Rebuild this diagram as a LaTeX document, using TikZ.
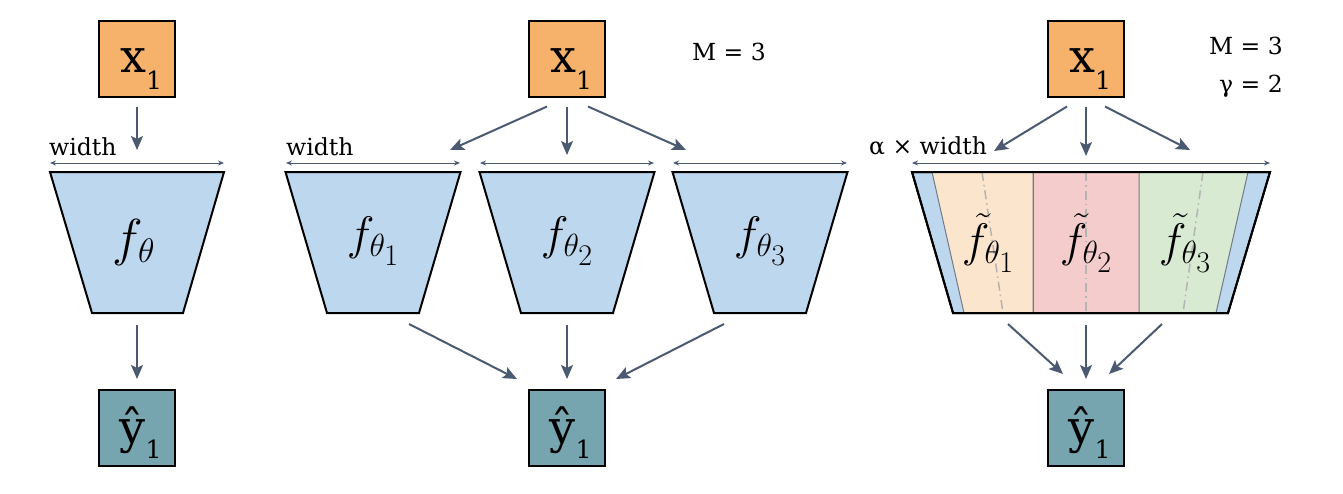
\RequirePackage{fix-cm}
\documentclass[tikz,border=0pt]{standalone}
\usepackage{fontspec}
\setmainfont{DejaVu Serif}
\usetikzlibrary{arrows.meta}
\DeclareMathSizes{47}{47}{32}{30}
\DeclareMathSizes{52}{52}{34}{32}

\definecolor{arancio}{HTML}{F6B26B}
\definecolor{azzurro}{HTML}{BDD7EE}
\definecolor{ciano}{HTML}{76A5AF}
\definecolor{freccia}{HTML}{4B5A70}
\definecolor{banda1}{HTML}{FCE5CD}
\definecolor{banda2}{HTML}{F4CCCC}
\definecolor{banda3}{HTML}{D9EAD3}
\definecolor{divisore}{HTML}{707A86}
\definecolor{tratto}{HTML}{B4B4B4}

\newcommand{\inlbl}{\raisebox{-13.5pt}[0pt][0pt]{\kern8pt\fontsize{46}{46}\selectfont x\raisebox{-17pt}{\fontsize{25}{25}\selectfont 1}}}
\newcommand{\outlbl}{\raisebox{-15pt}[0pt][0pt]{\kern7pt\fontsize{46}{46}\selectfont ŷ\raisebox{-15pt}{\fontsize{25}{25}\selectfont 1}}}

\begin{document}
\begin{tikzpicture}[x=1pt, y=-1pt,
        box/.style={draw, line width=2pt, minimum size=76pt, inner sep=0pt},
        inbox/.style={box, fill=arancio},
        outbox/.style={box, fill=ciano},
        net/.style={draw, line width=2pt, fill=azzurro},
        arr/.style={draw=freccia, line width=2pt, -{Stealth[length=14pt,width=12pt,inset=3pt]}},
        dim/.style={draw=freccia, line width=1pt, {Stealth[length=6pt,width=5pt]}-{Stealth[length=6pt,width=5pt]}},
        lbl/.style={inner sep=0pt, font=\fontsize{23.5}{28}\selectfont},
        fnt/.style={inner sep=0pt, font=\fontsize{47}{52}\selectfont}]
        \useasboundingbox (0,0) rectangle (1343,493);

        % Ingressi e uscite
        \node[inbox] (X0) at (137,58.5) {\inlbl};
        \node[inbox] (X1) at (567,58.5) {\inlbl};
        \node[inbox] (X2) at (1086,58.5) {\inlbl};
        \node[outbox] (Y0) at (137,428) {\outlbl};
        \node[outbox] (Y1) at (567,428) {\outlbl};
        \node[outbox] (Y2) at (1086,428) {\outlbl};

        % Rete singola
        \draw[net] (50,172) -- (224,172) -- (183,313) -- (92,313) -- cycle;
        \coordinate (T0) at (137,172);
        \coordinate (B0) at (137,313);
        \node[fnt, font=\fontsize{52}{58}\selectfont] (F0) at (134,242) {$f_\theta$};
        \draw[dim] (50,163) -- (224,163);
        \node[lbl, anchor=base west] (w0) at (49,155) {width};

        % Ensemble di M reti
        \foreach \c/\i in {373/1, 567/2, 760/3} {
            \draw[net] (\c-87.5,172) -- (\c+87.5,172) -- (\c+46,313) -- (\c-46,313) -- cycle;
            \coordinate (T\i) at (\c,172);
            \coordinate (B\i) at (\c,313);
            \node[fnt] (F\i) at (\c,241) {$f_{\theta_\i}$};
            \draw[dim] (\c-87,163) -- (\c+87,163);
        }
        \node[lbl, anchor=base west] (w1) at (286,155) {width};
        \node[lbl, anchor=base west] (m1) at (692,60) {M = 3};

        % Rete larga divisa in sottoreti
        \draw[net] (912,172) -- (1270,172) -- (1228,313) -- (953,313) -- cycle;
        \filldraw[fill=banda1, draw=divisore, line width=1pt] (932,172) -- (1033,172) -- (1033,313) -- (964,313) -- cycle;
        \filldraw[fill=banda2, draw=divisore, line width=1pt] (1033,172) -- (1139,172) -- (1139,313) -- (1033,313) -- cycle;
        \filldraw[fill=banda3, draw=divisore, line width=1pt] (1139,172) -- (1248,172) -- (1216,313) -- (1139,313) -- cycle;
        \draw[tratto, line width=1.5pt, dash pattern=on 9pt off 4pt on 1.5pt off 4pt] (982,172) -- (1003,313);
        \draw[tratto, line width=1.5pt, dash pattern=on 9pt off 4pt on 1.5pt off 4pt] (1086,172) -- (1086,313);
        \draw[tratto, line width=1.5pt, dash pattern=on 9pt off 4pt on 1.5pt off 4pt] (1203,172) -- (1183,313);
        \draw[line width=2pt] (912,172) -- (1270,172) -- (1228,313) -- (953,313) -- cycle;
        \coordinate (T4) at (1086,172);
        \coordinate (B4) at (1086,313);
        \node[fnt] (G1) at (988,243) {$\tilde{f}_{\theta_1}$};
        \node[fnt] (G2) at (1086,243) {$\tilde{f}_{\theta_2}$};
        \node[fnt] (G3) at (1185,243) {$\tilde{f}_{\theta_3}$};
        \draw[dim] (912,163) -- (1270,163);
        \node[lbl, anchor=base west] (w2) at (869,154) {α × width};
        \node[lbl, anchor=base east] (m2) at (1283,54) {M = 3};
        \node[lbl, anchor=base east] (g2) at (1283,92) {γ = 2};

        % Collegamenti
        \draw[arr, shorten <=9pt, shorten >=22pt] (X0.south) -- (T0);
        \draw[arr, shorten <=12pt, shorten >=10pt] (B0) -- (Y0.north);

        \draw[arr] ([xshift=-20pt,yshift=-9pt]X1.south) -- ([xshift=77pt,yshift=22pt]T1);
        \draw[arr] ([yshift=-9pt]X1.south) -- ([yshift=17pt]T2);
        \draw[arr] ([xshift=21pt,yshift=-9pt]X1.south) -- ([xshift=-74pt,yshift=22pt]T3);
        \draw[arr] ([xshift=36pt,yshift=-11pt]B1) -- ([xshift=-11pt,yshift=10pt]Y1.north west);
        \draw[arr] ([yshift=-12pt]B2) -- ([yshift=10pt]Y1.north);
        \draw[arr] ([xshift=-36pt,yshift=-11pt]B3) -- ([xshift=10pt,yshift=10pt]Y1.north east);

        \draw[arr] ([xshift=-19pt,yshift=-9pt]X2.south) -- ([xshift=-92pt,yshift=21pt]T4);
        \draw[arr] ([yshift=-9pt]X2.south) -- ([yshift=16pt]T4);
        \draw[arr] ([xshift=19pt,yshift=-9pt]X2.south) -- ([xshift=104pt,yshift=22pt]T4);
        \draw[arr] ([xshift=-78pt,yshift=-11pt]B4) -- ([xshift=-23pt,yshift=15pt]Y2.north);
        \draw[arr] ([yshift=-12pt]B4) -- ([yshift=10pt]Y2.north);
        \draw[arr] ([xshift=76pt,yshift=-11pt]B4) -- ([xshift=23pt,yshift=15pt]Y2.north);
    \end{tikzpicture}
\end{document}
